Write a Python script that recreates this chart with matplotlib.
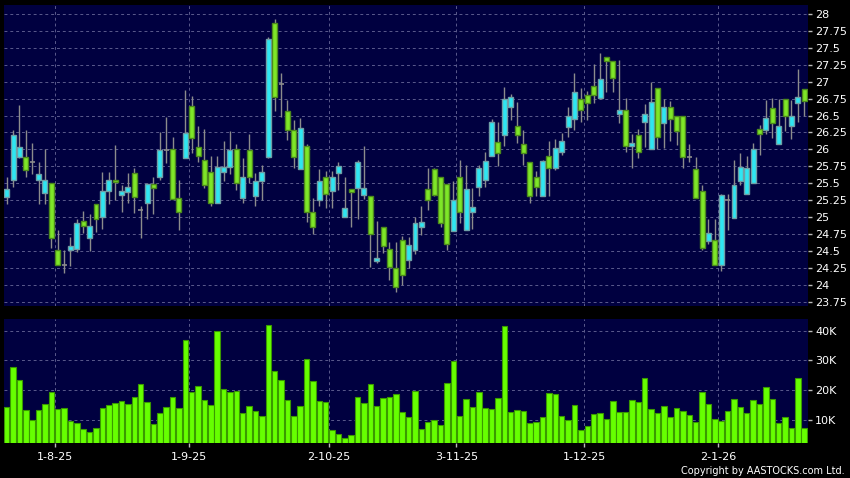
import matplotlib
matplotlib.use('Agg')
import matplotlib.pyplot as plt
import numpy as np

# daily candles, oldest first (cyan = up, green = down)
opens = [25.30, 25.55, 25.89, 25.89, 25.81, 25.55, 25.35, 25.50, 24.51, 24.30,
         24.52, 24.53, 24.94, 24.70, 25.19, 25.00, 25.38, 25.55, 25.32, 25.37,
         25.65, 25.10, 25.21, 25.49, 25.60, 25.99, 26.00, 25.28, 25.87, 26.64,
         26.04, 25.84, 25.66, 25.21, 25.66, 25.74, 26.00, 25.28, 25.99, 25.31,
         25.54, 25.89, 27.86, 26.96, 26.57, 26.28, 25.71, 26.05, 25.08, 25.26,
         25.60, 25.39, 25.65, 25.00, 25.41, 25.43, 25.32, 25.31, 24.35, 24.85,
         24.53, 24.25, 24.66, 24.37, 24.51, 24.85, 25.42, 25.71, 25.60, 25.49,
         24.79, 25.59, 24.81, 25.07, 25.44, 25.55, 25.90, 26.11, 26.21, 26.62,
         26.34, 26.08, 25.81, 25.59, 25.31, 25.91, 25.73, 25.96, 26.33, 26.45,
         26.75, 26.80, 26.94, 26.76, 27.36, 27.30, 26.52, 26.58, 26.05, 26.21,
         26.40, 26.01, 26.91, 26.39, 26.62, 26.50, 26.50, 25.89, 25.71, 25.38,
         24.65, 24.66, 24.29, 25.25, 24.99, 25.53, 25.34, 25.50, 26.30, 26.29,
         26.61, 26.08, 26.74, 26.34, 26.68, 26.89]
highs = [25.59, 26.29, 26.65, 26.29, 26.10, 25.81, 26.00, 25.50, 24.81, 24.52,
         24.71, 24.97, 25.09, 25.04, 25.20, 25.66, 25.66, 26.07, 25.47, 25.65,
         25.73, 25.17, 25.50, 25.60, 26.25, 26.48, 26.19, 25.55, 26.87, 26.79,
         26.34, 26.30, 25.90, 25.91, 26.12, 26.27, 26.08, 25.87, 26.22, 25.65,
         25.77, 27.66, 27.93, 27.13, 26.73, 26.44, 26.46, 26.08, 25.28, 25.71,
         25.68, 25.68, 25.81, 25.60, 25.41, 25.84, 26.05, 25.31, 24.94, 24.85,
         24.64, 24.64, 24.72, 24.71, 25.01, 25.17, 25.73, 25.73, 25.60, 25.49,
         25.54, 25.85, 25.77, 25.43, 25.77, 25.96, 26.45, 26.40, 26.92, 26.82,
         26.70, 26.29, 25.81, 25.68, 25.85, 26.12, 26.16, 26.24, 26.63, 27.13,
         26.91, 26.86, 27.26, 27.42, 27.36, 27.30, 27.32, 26.76, 26.23, 26.30,
         26.67, 26.99, 26.91, 26.74, 26.71, 26.50, 26.50, 26.08, 25.89, 25.48,
         24.98, 24.98, 25.34, 25.34, 25.85, 25.94, 25.90, 26.10, 26.36, 26.73,
         26.76, 26.74, 26.74, 26.73, 27.19, 26.89]
lows = [25.19, 25.45, 25.87, 25.59, 25.64, 25.19, 25.19, 24.55, 24.30, 24.17,
        24.28, 24.48, 24.76, 24.50, 24.78, 24.82, 25.19, 25.25, 25.08, 25.21,
        25.06, 24.69, 24.97, 25.04, 25.55, 25.80, 25.27, 24.81, 25.87, 25.94,
        25.82, 25.43, 25.16, 25.21, 25.54, 25.63, 25.40, 25.21, 25.51, 25.16,
        25.25, 25.87, 26.57, 26.48, 26.14, 25.73, 25.71, 24.93, 24.75, 25.16,
        25.14, 25.14, 25.40, 25.00, 24.85, 24.98, 25.27, 24.26, 24.32, 24.47,
        24.08, 23.89, 24.00, 24.25, 24.46, 24.73, 25.10, 25.31, 24.86, 24.52,
        24.79, 24.92, 24.81, 24.82, 25.31, 25.44, 25.90, 25.76, 26.05, 26.44,
        26.09, 25.77, 25.21, 25.31, 25.31, 25.31, 25.70, 25.92, 26.18, 26.29,
        26.41, 26.44, 26.68, 26.74, 26.84, 26.84, 26.39, 25.96, 25.73, 25.87,
        26.04, 26.01, 26.01, 26.02, 26.12, 26.07, 25.73, 25.81, 25.28, 24.51,
        24.60, 24.29, 24.20, 24.81, 24.99, 25.47, 25.34, 25.50, 25.92, 26.22,
        26.17, 26.08, 26.27, 26.15, 26.40, 26.49]
closes = [25.41, 26.21, 26.04, 25.70, 25.81, 25.64, 25.55, 24.70, 24.30, 24.30,
          24.57, 24.91, 24.87, 24.87, 24.97, 25.38, 25.55, 25.52, 25.38, 25.44,
          25.30, 25.10, 25.49, 25.43, 25.99, 25.99, 25.27, 25.08, 26.24, 26.17,
          25.90, 25.47, 25.21, 25.74, 25.74, 25.99, 25.50, 25.59, 25.59, 25.54,
          25.67, 27.63, 26.78, 26.96, 26.28, 25.89, 26.32, 25.07, 24.85, 25.54,
          25.34, 25.60, 25.76, 25.13, 25.37, 25.81, 25.43, 24.75, 24.40, 24.58,
          24.26, 23.97, 24.14, 24.59, 24.91, 24.93, 25.26, 25.33, 24.92, 24.60,
          25.25, 25.07, 25.42, 25.15, 25.73, 25.83, 26.40, 25.94, 26.74, 26.78,
          26.21, 25.94, 25.31, 25.44, 25.83, 25.73, 26.02, 26.12, 26.50, 26.84,
          26.58, 26.69, 26.80, 27.04, 27.30, 27.06, 26.58, 26.05, 26.10, 25.96,
          26.52, 26.70, 26.18, 26.62, 26.45, 26.27, 25.89, 25.89, 25.28, 24.55,
          24.77, 24.29, 25.32, 25.25, 25.47, 25.74, 25.72, 26.01, 26.23, 26.46,
          26.39, 26.35, 26.50, 26.50, 26.78, 26.72]
# volume in thousands
volumes = [14.3, 27.8, 23.4, 13.4, 9.9, 13.4, 15.5, 19.3, 13.7, 14.2,
           9.8, 9.0, 7.0, 6.0, 7.5, 14.2, 15.0, 15.7, 16.4, 15.3,
           17.7, 22.1, 15.9, 8.6, 12.3, 14.3, 17.6, 14.0, 36.8, 19.5,
           21.5, 16.7, 15.2, 39.8, 20.4, 19.5, 19.8, 12.4, 14.8, 13.0,
           11.4, 41.9, 26.6, 23.4, 16.6, 11.2, 14.6, 30.6, 23.2, 16.5,
           15.9, 6.5, 5.4, 4.0, 4.9, 17.7, 15.7, 22.1, 14.7, 17.3,
           17.7, 18.6, 12.6, 10.9, 19.9, 6.9, 9.3, 9.9, 8.2, 22.5,
           29.9, 11.4, 17.1, 14.4, 19.5, 14.2, 13.7, 17.4, 41.7, 12.6,
           13.4, 13.0, 9.1, 9.5, 11.0, 19.0, 18.9, 11.4, 9.9, 15.2,
           6.5, 8.0, 12.1, 12.3, 10.3, 16.4, 12.6, 12.7, 16.6, 16.2,
           24.2, 13.7, 12.5, 14.8, 11.0, 13.9, 13.1, 11.7, 9.5, 19.4,
           15.5, 10.4, 9.7, 13.0, 17.1, 14.4, 12.4, 16.7, 15.4, 21.2,
           16.9, 9.0, 11.0, 7.3, 24.0, 7.3]

date_pos = [7.5, 28.5, 50.5, 70.5, 90.5, 111.5]
date_labels = ['1-8-25', '1-9-25', '2-10-25', '3-11-25', '1-12-25', '2-1-26']
price_ticks = [23.75, 24, 24.25, 24.5, 24.75, 25, 25.25, 25.5, 25.75, 26,
               26.25, 26.5, 26.75, 27, 27.25, 27.5, 27.75, 28]
vol_ticks = [10, 20, 30, 40]

BG = '#000040'
GRID = '#5a5a8c'
CYAN = '#2ee6f2'
CYAN_EDGE = '#6f9fa6'
GREEN = '#7ee628'
GREEN_EDGE = '#4c8a1c'
WICK = '#8c8c8c'

plt.rcParams['font.family'] = ['DejaVu Sans']

o = np.array(opens)
h = np.array(highs)
l = np.array(lows)
c = np.array(closes)
x = np.arange(len(o))

fig = plt.figure(figsize=(8.5, 4.78), dpi=100, facecolor='black')
W, H = 850.0, 478.0
ax = fig.add_axes([4 / W, 1 - 306 / H, 804 / W, 301 / H], facecolor=BG)
axv = fig.add_axes([4 / W, 1 - 443.3 / H, 804 / W, 124.3 / H], facecolor=BG)

# wicks
ax.vlines(x, l, h, color=WICK, linewidth=1, zorder=2)

up = c > o
down = c < o
doji = c == o
ax.bar(x[up], (c - o)[up], bottom=o[up], width=0.78, color=CYAN,
       edgecolor=CYAN_EDGE, linewidth=1, zorder=3)
ax.bar(x[down], (c - o)[down], bottom=o[down], width=0.78, color=GREEN,
       edgecolor=GREEN_EDGE, linewidth=1, zorder=3)
ax.hlines(c[doji], x[doji] - 0.39, x[doji] + 0.39, color=WICK, linewidth=1.2, zorder=3)

axv.bar(x, np.array(volumes) * 1000, width=0.86, bottom=0, color='#66ff00',
        edgecolor='#3a9a00', linewidth=0.8, zorder=3)

for a in (ax, axv):
    a.set_xlim(-0.42, 125.6)
    for s in a.spines.values():
        s.set_visible(False)
    a.yaxis.tick_right()
    a.tick_params(axis='y', colors='#bbbbbb', labelcolor='white', labelsize=8,
                  length=3, width=1, pad=2, direction='out')
    a.set_xticks(date_pos)
    a.grid(True, color=GRID, linestyle=(0, (3, 3)), linewidth=0.7, zorder=0)
    a.set_axisbelow(True)

ax.set_ylim(23.69, 28.13)
ax.set_yticks(price_ticks)
ax.set_yticklabels(['%g' % t for t in price_ticks])
ax.tick_params(axis='x', length=0, labelbottom=False)

axv.set_ylim(2200, 43900)
axv.set_yticks([t * 1000 for t in vol_ticks])
axv.set_yticklabels(['%dK' % t for t in vol_ticks])
axv.set_xticklabels(date_labels)
axv.tick_params(axis='x', colors='#bbbbbb', labelcolor='white', labelsize=8,
                length=3, width=1, pad=3)

fig.text(845 / W, 1 - 471.5 / H, 'Copyright by AASTOCKS.com Ltd.', color='white',
         fontsize=7, ha='right', va='center')

fig.savefig('out.png', dpi=100, facecolor='black')
